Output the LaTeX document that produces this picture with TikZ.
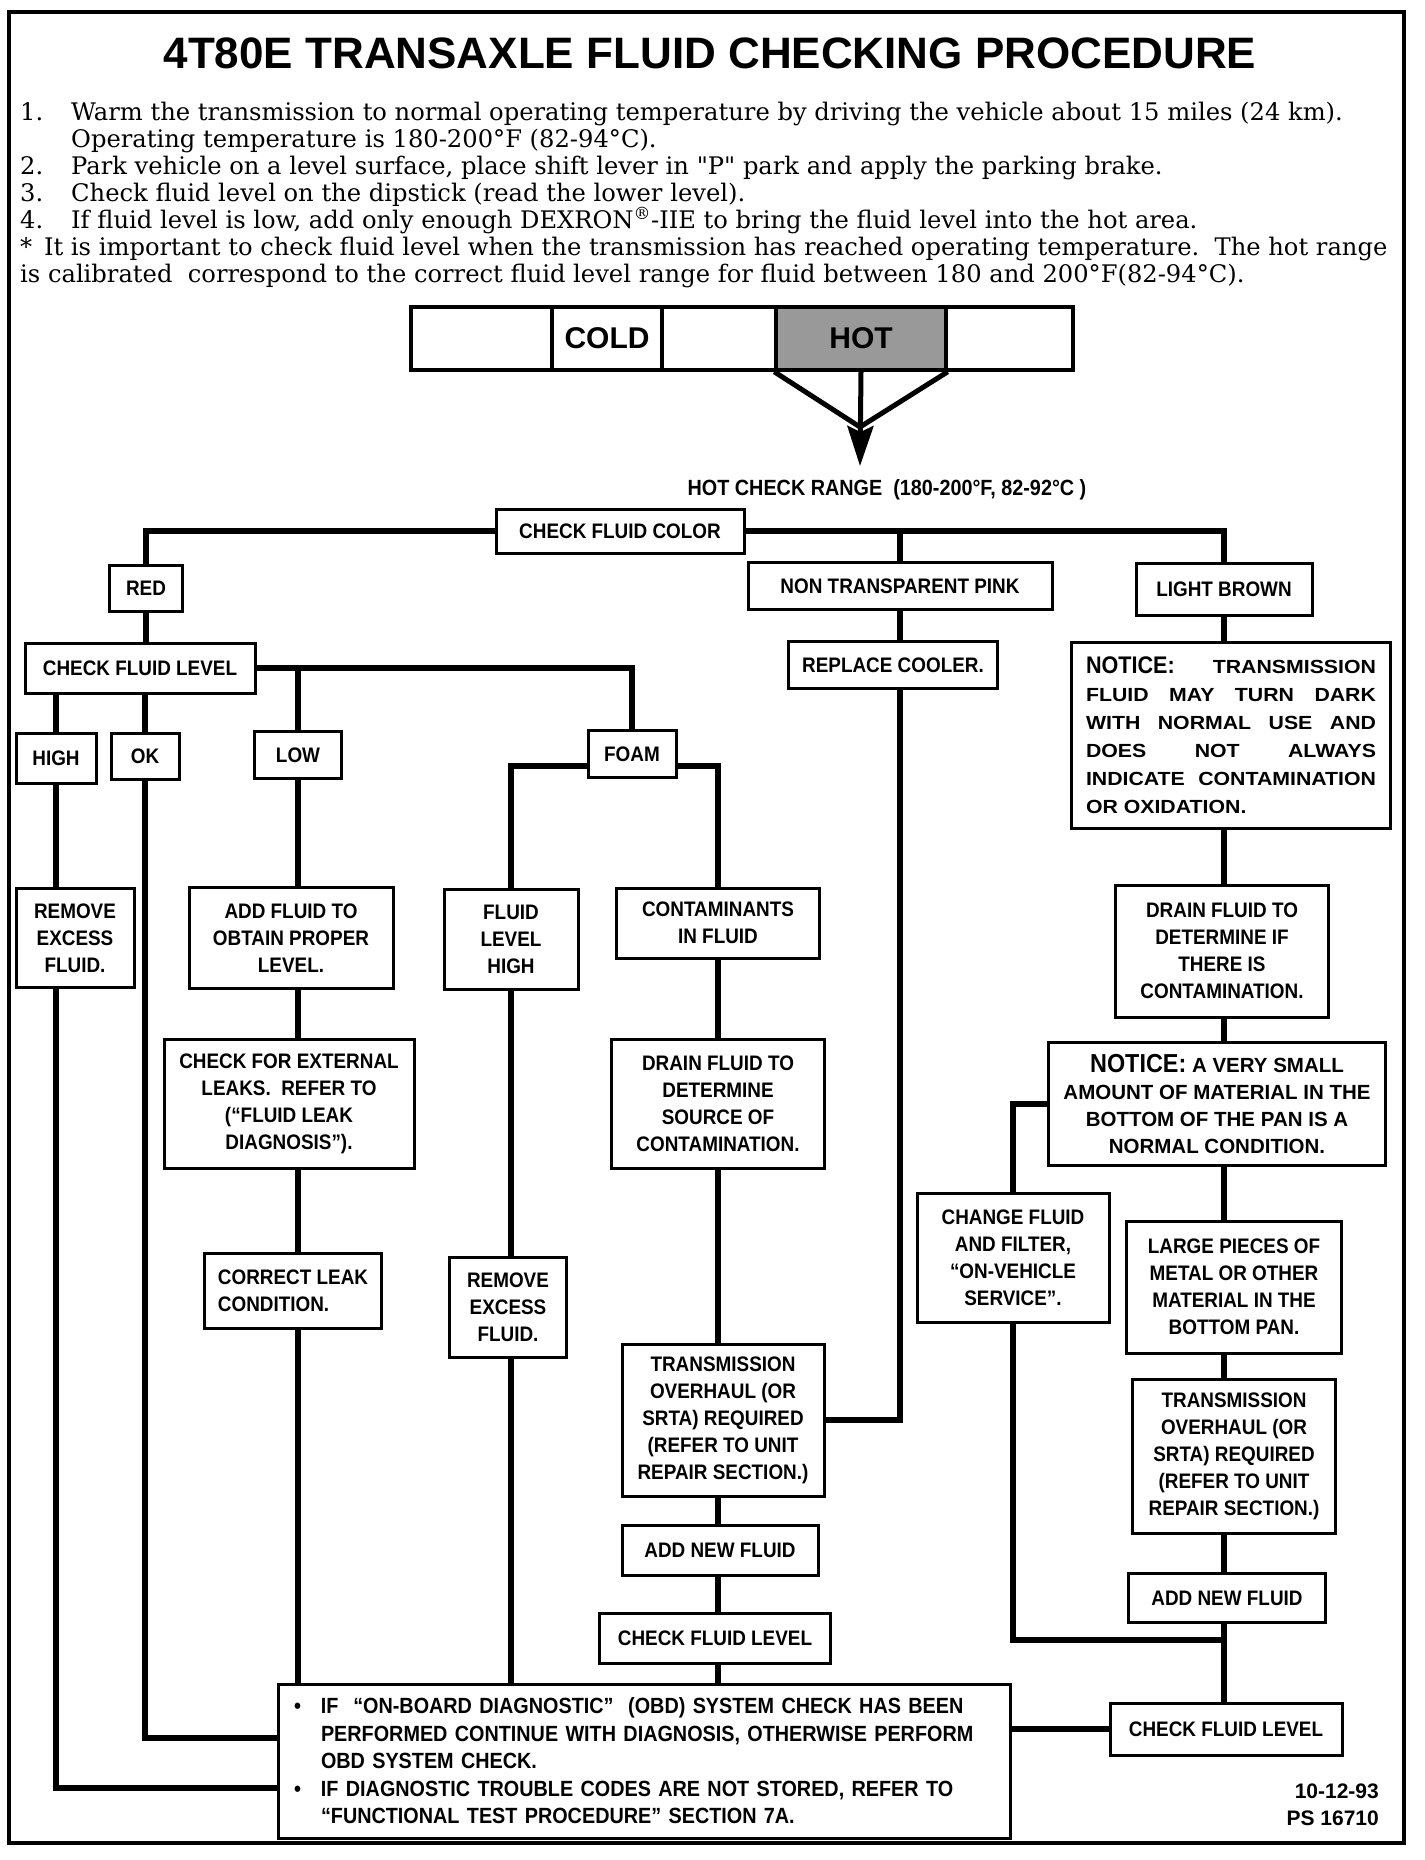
\documentclass[tikz,border=0pt]{standalone}
\usepackage{fontspec}
\setmainfont{DejaVu Serif}
\newfontfamily\labelfont[FakeStretch=0.9]{Liberation Sans}
\newfontfamily\widefont[FakeStretch=1.12]{Liberation Sans}
\newfontfamily\headfont{Liberation Sans}
\usetikzlibrary{arrows.meta, backgrounds}

\newcommand{\jline}[1]{\makebox[290pt][s]{#1}}

\begin{document}
\begin{tikzpicture}[
    x=1pt, y=-1pt,
    box/.style 2 args={draw, line width=3pt, fill=white, inner sep=0pt, align=center,
        minimum width=#1pt, minimum height=#2pt,
        font=\labelfont\bfseries\fontsize{21}{27}\selectfont},
    notice/.style={font=\headfont\bfseries\fontsize{20.5}{27}\selectfont},
    cell/.style={draw, line width=3.5pt, inner sep=0pt, minimum height=63pt,
        font=\headfont\bfseries\fontsize{30}{30}\selectfont},
    link/.style={line width=6pt},
    arrow/.style={-{Stealth[length=40pt, width=26pt, inset=6pt]}, line width=5pt}
  ]
\useasboundingbox (0,0) rectangle (1424,1860);
\draw[line width=4pt] (9,12) rectangle (1404,1843);

% Heading
\node[inner sep=0pt, font=\headfont\bfseries\fontsize{44}{44}\selectfont] (title) at (710,53)
    {4T80E TRANSAXLE FLUID CHECKING PROCEDURE};
\node[anchor=north west, align=left, inner sep=0pt, font=\fontsize{24.2}{27}\selectfont] (steps) at (20,102) {%
    \makebox[51pt][l]{1.}Warm the transmission to normal operating temperature by driving the vehicle about 15 miles (24 km).\\
    \hspace*{51pt}Operating temperature is 180-200°F (82-94°C).\\
    \makebox[51pt][l]{2.}Park vehicle on a level surface, place shift lever in \textquotedbl P\textquotedbl{} park and apply the parking brake.\\
    \makebox[51pt][l]{3.}Check fluid level on the dipstick (read the lower level).\\
    \makebox[51pt][l]{4.}If fluid level is low, add only enough DEXRON\textsuperscript{®}-IIE to bring the fluid level into the hot area.\\
    *\, It is important to check fluid level when the transmission has reached operating temperature.\ \ The hot range\\
    is calibrated\ \ correspond to the correct fluid level range for fluid between 180 and 200°F(82-94°C).};

% Dipstick
\node[cell, minimum width=141pt] (dip1) at (481.5,338.5) {};
\node[cell, minimum width=110pt] (cold) at (607,338.5) {COLD};
\node[cell, minimum width=114pt] (dip3) at (719,338.5) {};
\node[cell, minimum width=170pt, fill=black!40] (hot) at (861,338.5) {HOT};
\node[cell, minimum width=127pt] (dip5) at (1009.5,338.5) {};
\coordinate (meet) at (860,427);
\coordinate (tip) at (860,466);
\draw[line width=5pt] (hot.south west) -- (meet) -- (hot.south east);
\draw[arrow] (hot.south) -- (tip);
\node[inner sep=0pt, font=\labelfont\bfseries\fontsize{22}{22}\selectfont] (range) at (887,490)
    {HOT CHECK RANGE\ \ (180-200°F, 82-92°C )};

% Nodes
\node[box={248}{44}] (color) at (620,531) {CHECK FLUID COLOR};
\node[box={73}{46}] (red) at (146,588) {RED};
\node[box={304}{47}] (pink) at (900,586) {NON TRANSPARENT PINK};
\node[box={176}{52}] (brown) at (1224,589) {LIGHT BROWN};
\node[box={230}{50}] (level) at (140,668) {CHECK FLUID LEVEL};
\node[box={209}{47}] (cooler) at (893,665) {REPLACE COOLER.};
\node[box={319}{186}, font=\widefont\bfseries\fontsize{19}{28}\selectfont] (notice1) at (1231,735) {%
    \jline{{\labelfont\fontsize{24}{28}\selectfont NOTICE:} TRANSMISSION}\\
    \jline{FLUID MAY TURN DARK}\\
    \jline{WITH NORMAL USE AND}\\
    \jline{DOES NOT ALWAYS}\\
    \jline{INDICATE CONTAMINATION}\\
    \makebox[290pt][l]{OR OXIDATION.}};
\node[box={80}{50}] (high) at (56,758) {HIGH};
\node[box={68}{46}] (ok) at (145,756) {OK};
\node[box={87}{47}] (low) at (298,755) {LOW};
\node[box={88}{47}] (foam) at (632,754) {FOAM};
\node[box={118}{99}] (remove1) at (75,938) {REMOVE\\EXCESS\\FLUID.};
\node[box={204}{101}] (addfluid) at (291,938) {ADD FLUID TO\\OBTAIN PROPER\\LEVEL.};
\node[box={134}{100}] (flhigh) at (511,939) {FLUID\\LEVEL\\HIGH};
\node[box={203}{70}] (contam) at (718,923) {CONTAMINANTS\\IN FLUID};
\node[box={213}{132}] (drainif) at (1222,951) {DRAIN FLUID TO\\DETERMINE IF\\THERE IS\\CONTAMINATION.};
\node[box={250}{129}] (leaks) at (289,1104) {CHECK FOR EXTERNAL\\LEAKS.\ \ REFER TO\\(“FLUID LEAK\\DIAGNOSIS”).};
\node[box={213}{129}] (drainsrc) at (718,1104) {DRAIN FLUID TO\\DETERMINE\\SOURCE OF\\CONTAMINATION.};
\node[box={337}{123}, notice] (notice2) at (1217,1104) {%
    {\labelfont\fontsize{26}{27}\selectfont NOTICE:} A VERY SMALL\\AMOUNT OF MATERIAL IN THE\\BOTTOM OF THE PAN IS A\\NORMAL CONDITION.};
\node[box={192}{129}] (change) at (1013,1258) {CHANGE FLUID\\AND FILTER,\\“ON-VEHICLE\\SERVICE”.};
\node[box={215}{132}] (large) at (1234,1287) {LARGE PIECES OF\\METAL OR OTHER\\MATERIAL IN THE\\BOTTOM PAN.};
\node[box={177}{75}, align=left] (leakfix) at (293,1291) {CORRECT LEAK\\CONDITION.};
\node[box={117}{100}] (remove2) at (508,1307) {REMOVE\\EXCESS\\FLUID.};
\node[box={202}{152}] (overhaul1) at (723,1420) {TRANSMISSION\\OVERHAUL (OR\\SRTA) REQUIRED\\(REFER TO UNIT\\REPAIR SECTION.)};
\node[box={203}{154}] (overhaul2) at (1234,1456) {TRANSMISSION\\OVERHAUL (OR\\SRTA) REQUIRED\\(REFER TO UNIT\\REPAIR SECTION.)};
\node[box={196}{50}] (newfluid1) at (720,1550) {ADD NEW FLUID};
\node[box={197}{49}] (newfluid2) at (1227,1598) {ADD NEW FLUID};
\node[box={231}{50}] (check1) at (715,1638) {CHECK FLUID LEVEL};
\node[box={232}{52}] (check2) at (1226,1729) {CHECK FLUID LEVEL};
\node[box={732}{154}, text width=700pt, align=left, font=\labelfont\bfseries\fontsize{22}{27.5}\selectfont] (obd) at (644,1761) {%
    \makebox[27pt][l]{\textbullet}IF\ \ “ON-BOARD DIAGNOSTIC”\ \ (OBD) SYSTEM CHECK HAS BEEN\\
    \hspace*{27pt}PERFORMED CONTINUE WITH DIAGNOSIS, OTHERWISE PERFORM\\
    \hspace*{27pt}OBD SYSTEM CHECK.\\
    \makebox[27pt][l]{\textbullet}IF DIAGNOSTIC TROUBLE CODES ARE NOT STORED, REFER TO\\
    \hspace*{27pt}“FUNCTIONAL TEST PROCEDURE” SECTION 7A.};
\node[anchor=east, align=right, inner sep=0pt, font=\headfont\bfseries\fontsize{21}{27}\selectfont] (stamp) at (1379,1805)
    {10-12-93\\PS 16710};

% Connections
\begin{scope}[on background layer]
\draw[link] (color.west) -| (red);
\draw[link] (color.east) -| (brown);
\draw[link] (color.east -| pink) |- (overhaul1.east);
\draw[link] (red) -- (red |- level);
\draw[link] (level.east) -| (foam);
\draw[link] (level.east -| low) -- (low |- obd.north);
\draw[link] (level.south -| high) |- ([yshift=-27pt]obd.west);
\draw[link] (level.south -| ok) |- ([yshift=23pt]obd.west);
\draw[link] ([yshift=-12pt]foam.west) -| (flhigh |- obd.north);
\draw[link] ([yshift=-12pt]foam.east) -| (contam |- obd.north);
\draw[link] (brown) -- (brown |- check2);
\draw[link] (notice2.west) -| (change.center) |- ([yshift=-16pt]newfluid2.south);
\draw[link] (check2) -- (check2 -| obd.east);
\end{scope}

\end{tikzpicture}
\end{document}
